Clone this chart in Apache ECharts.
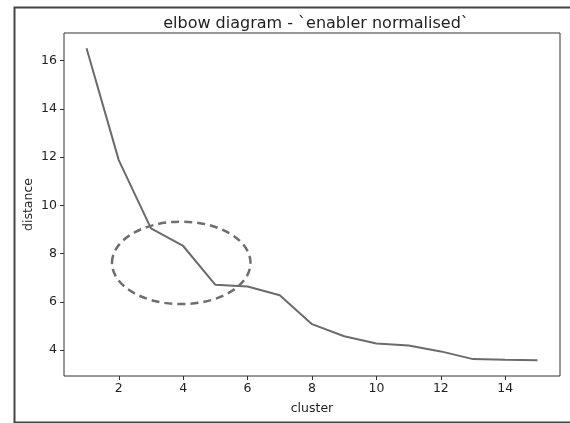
<!DOCTYPE html>
<html>
<head>
<meta charset="utf-8">
<script src="https://cdn.jsdelivr.net/npm/echarts@6/dist/echarts.min.js"></script>
<style>
  html, body { margin: 0; padding: 0; background: #fff; }
  #elbow_chart { width: 570px; height: 423px; }
</style>
</head>
<body>
<div id="elbow_chart"></div>
<script>
  // cluster count vs distance
  var clusters = [1, 2, 3, 4, 5, 6, 7, 8, 9, 10, 11, 12, 13, 14, 15];
  var distances = [16.52, 11.88, 9.05, 8.32, 6.71, 6.64, 6.28, 5.08, 4.58, 4.28, 4.19, 3.95, 3.63, 3.60, 3.58];
  var xTicks = [2, 4, 6, 8, 10, 12, 14];
  var yTicks = [4, 6, 8, 10, 12, 14, 16];
  // dashed ring round the elbow: centre x, centre y, radius x, radius y (data units)
  var elbowRing = [3.94, 7.62, 2.15, 1.71];

  var font = 'DejaVu Sans';
  var textColor = '#1f1f1f';

  var chart = echarts.init(document.getElementById('elbow_chart'));
  var option = {
    animation: false,
    title: {
      text: 'elbow diagram - `enabler normalised`',
      left: 311,
      top: 11,
      textAlign: 'center',
      textStyle: { fontFamily: font, fontSize: 16, fontWeight: 'normal', color: textColor }
    },
    grid: {
      left: 64, right: 10, top: 33, bottom: 47,
      show: true, borderColor: '#333', borderWidth: 1, backgroundColor: '#fff'
    },
    xAxis: {
      type: 'value',
      min: 0.3, max: 15.7,
      name: 'cluster',
      nameLocation: 'middle',
      nameGap: 26,
      nameMoveOverlap: false,
      nameTextStyle: { fontFamily: font, fontSize: 12.5, color: textColor },
      axisLine: { show: false },
      splitLine: { show: false },
      axisTick: { show: true, length: 4, customValues: xTicks, lineStyle: { color: '#333' } },
      axisLabel: { customValues: xTicks, fontFamily: font, fontSize: 12.5, color: textColor, margin: 6 }
    },
    yAxis: {
      type: 'value',
      min: 2.93, max: 17.15,
      name: 'distance',
      nameLocation: 'middle',
      nameGap: 29,
      nameMoveOverlap: false,
      nameTextStyle: { fontFamily: font, fontSize: 12.5, color: textColor },
      axisLine: { show: false },
      splitLine: { show: false },
      axisTick: { show: true, length: 4, customValues: yTicks, lineStyle: { color: '#333' } },
      axisLabel: { customValues: yTicks, fontFamily: font, fontSize: 12.5, color: textColor, margin: 7 }
    },
    graphic: [{
      type: 'rect',
      left: 12, top: 5,
      shape: { width: 570, height: 415 },
      style: { fill: 'none', stroke: '#444', lineWidth: 2 },
      silent: true,
      z: 100
    }],
    series: [
      {
        type: 'line',
        data: clusters.map(function (c, i) { return [c, distances[i]]; }),
        showSymbol: false,
        lineStyle: { color: '#6b6b6b', width: 2 },
        z: 2
      },
      {
        type: 'custom',
        clip: false,
        data: [elbowRing],
        encode: { x: 0, y: 1 },
        renderItem: function (params, api) {
          var c = api.coord([api.value(0), api.value(1)]);
          var s = api.size([api.value(2), api.value(3)]);
          return {
            type: 'ellipse',
            shape: { cx: c[0], cy: c[1], rx: s[0], ry: s[1] },
            style: { fill: 'none', stroke: '#6e6e6e', lineWidth: 2.5, lineDash: [8, 5] }
          };
        },
        z: 3
      }
    ]
  };
  chart.setOption(option);
</script>
</body>
</html>
